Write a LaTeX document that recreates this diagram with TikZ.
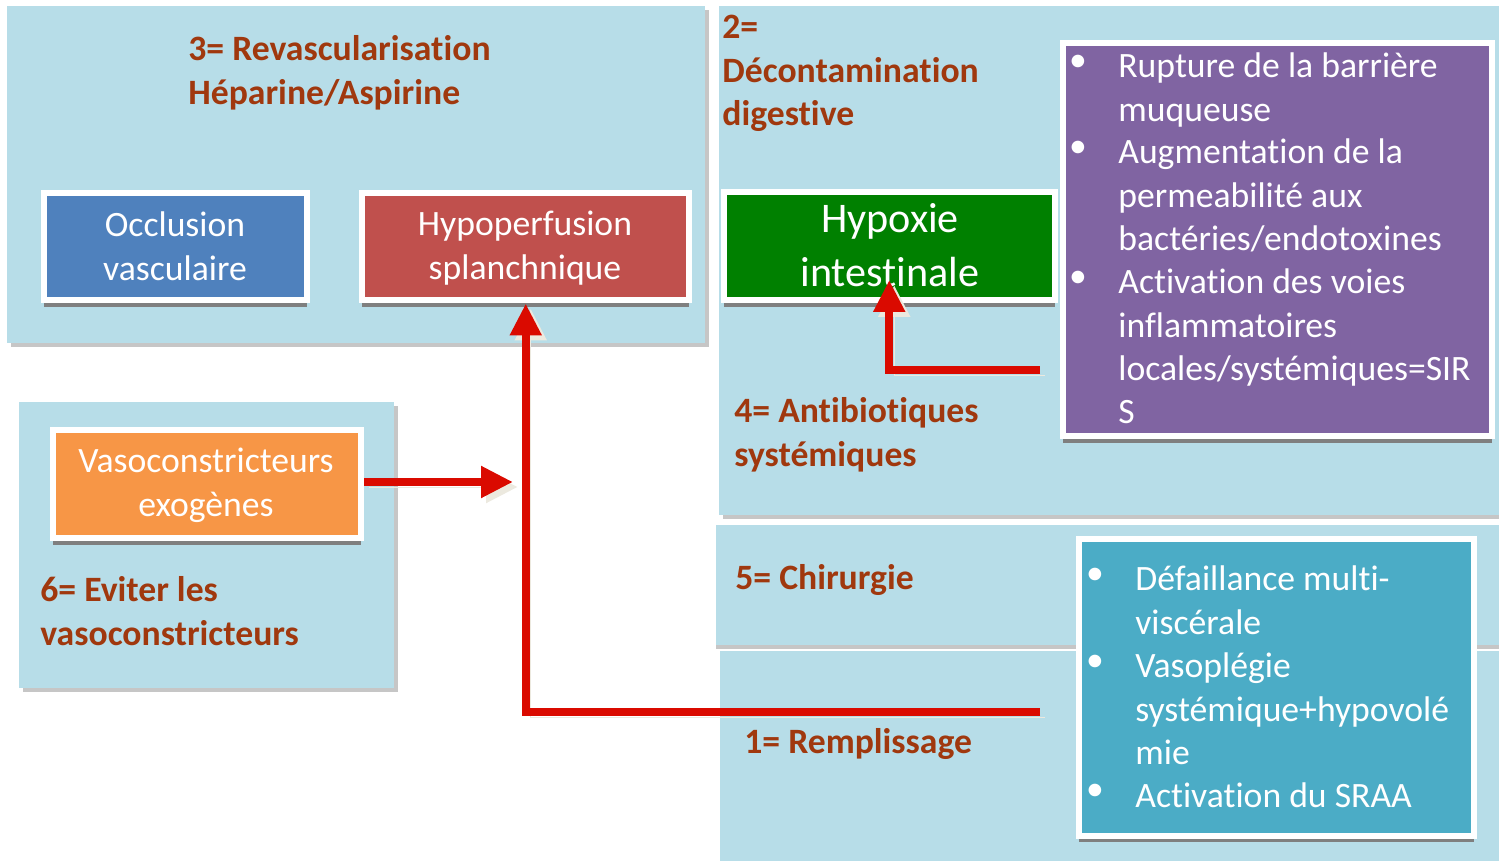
\documentclass[tikz,border=0pt]{standalone}
\usepackage{fontspec}
\setmainfont{Carlito}[Ligatures=NoCommon]
\usetikzlibrary{arrows.meta,shadows}

\definecolor{panelblue}{HTML}{B7DDE8}
\definecolor{panelshadow}{HTML}{C6C6C6}
\definecolor{titlered}{HTML}{A0380E}
\definecolor{arrowred}{HTML}{DA0A00}
\definecolor{arrowshadow}{HTML}{ECE9DF}
\definecolor{occblue}{HTML}{4F81BD}
\definecolor{hypred}{HTML}{C0504D}
\definecolor{hypgreen}{HTML}{008000}
\definecolor{sirpurple}{HTML}{8064A2}
\definecolor{vasoorange}{HTML}{F79646}
\definecolor{mofteal}{HTML}{4BACC6}
\definecolor{boxshadow}{HTML}{7F7F7F}

% text blocks whose baseline is the baseline of their first line
\newcommand{\blk}[2]{\begin{tabular}[t]{@{}#1@{}}#2\end{tabular}}
\newcommand{\titlefont}{\fontsize{20.3}{24.5}\selectfont\bfseries}
\newcommand{\boxfont}{\fontsize{20.3}{24.5}\selectfont}
\newcommand{\bigboxfont}{\fontsize{24}{30.2}\selectfont}

\tikzset{
  panel/.style={fill=panelblue},
  panelshade/.style={fill=panelshadow},
  framed/.style={draw=white, line width=0.12cm, inner sep=0pt,
    drop shadow={shadow xshift=0cm, shadow yshift=-0.13cm, fill=boxshadow, opacity=1}},
  title/.style={text=titlered, font=\titlefont, inner sep=0pt, anchor=base west},
  boxtext/.style={text=white, font=\boxfont, inner sep=0pt, anchor=base},
  itemtext/.style={text=white, font=\boxfont, inner sep=0pt, anchor=base west},
  dot/.style={text=white, font=\boxfont, inner sep=0pt, anchor=center},
  redarrow/.style={draw=arrowred, line width=0.16cm,
    -{Triangle[length=0.64cm,width=0.6cm]},
    preaction={draw=arrowshadow, transform canvas={shift={(0.1cm,-0.1cm)}}}}
}

\begin{document}
\begin{tikzpicture}[x=0.02cm, y=-0.02cm]
\useasboundingbox (0,0) rectangle (1499,861);
\fill[white] (0,0) rectangle (1499,861);

% background panels with their shadows
\fill[panelshade] (11,10) rectangle (709,347);
\fill[panel] (7,6) rectangle (705,343);
\fill[panelshade] (723,10) rectangle (1499,519);
\fill[panel] (719,6) rectangle (1499,515);
\fill[panelshade] (23,406) rectangle (398,692);
\fill[panel] (19,402) rectangle (394,688);
\fill[panelshade] (716,529) rectangle (1499,649);
\fill[panel] (716,525) rectangle (1499,645);
\fill[panel] (720,651) rectangle (1499,861);

% treatment labels
\node[title] (tRevasc) at (188,61) {\blk{l}{3= Revascularisation\\Héparine/Aspirine}};
\node[title] (tDecont) at (722,39) {\blk{l}{2=\\Décontamination\\digestive}};
\node[title] (tAntib) at (734,423) {\blk{l}{4= Antibiotiques\\systémiques}};
\node[title] (tChir) at (735,590) {5= Chirurgie};
\node[title] (tRempl) at (744,753) {1= Remplissage};
\node[title] (tEviter) at (40,602) {\blk{l}{6= Eviter les\\vasoconstricteurs}};

% coloured boxes
\node[framed, fill=occblue, minimum width=5.27cm, minimum height=2.15cm] (occ) at (175.25,246.75) {};
\node[framed, fill=hypred, minimum width=6.55cm, minimum height=2.15cm] (hypo) at (525.75,246.75) {};
\node[framed, fill=hypgreen, minimum width=6.63cm, minimum height=2.17cm] (hyp) at (889.25,246.25) {};
\node[framed, fill=sirpurple, minimum width=8.58cm, minimum height=7.88cm] (sirs) at (1277.5,239.5) {};
\node[framed, fill=vasoorange, minimum width=6.17cm, minimum height=2.17cm] (vaso) at (207.25,484.25) {};
\node[framed, fill=mofteal, minimum width=7.9cm, minimum height=5.94cm] (mof) at (1276.5,687.5) {};

% box texts
\node[boxtext] (occT) at (175,237) {\blk{c}{Occlusion\\vasculaire}};
\node[boxtext] (hypoT) at (525,236) {\blk{c}{Hypoperfusion\\splanchnique}};
\node[boxtext] (vasoT) at (206,473) {\blk{c}{Vasoconstricteurs\\exogènes}};
\node[boxtext, font=\bigboxfont] (hypT) at (890,233) {\blk{c}{Hypoxie\\intestinale}};

% consequences of intestinal hypoxia
\node[dot] (d1) at (1078,63) {•};
\node[itemtext] (i1) at (1118,78) {\blk{l}{Rupture de la barrière\\muqueuse}};
\node[dot] (d2) at (1078,149) {•};
\node[itemtext] (i2) at (1118,164) {\blk{l}{Augmentation de la\\permeabilité aux\\bactéries/endotoxines}};
\node[dot] (d3) at (1078,279) {•};
\node[itemtext] (i3) at (1118,294) {\blk{l}{Activation des voies\\inflammatoires\\locales/systémiques=SIR\\S}};

% systemic consequences
\node[dot] (e1) at (1095,576) {•};
\node[itemtext] (j1) at (1135,591) {\blk{l}{Défaillance multi-\\viscérale}};
\node[dot] (e2) at (1095,663) {•};
\node[itemtext] (j2) at (1135,678) {\blk{l}{Vasoplégie\\systémique+hypovolé\\mie}};
\node[dot] (e3) at (1095,792) {•};
\node[itemtext] (j3) at (1135,807) {Activation du SRAA};

% arrows
\coordinate (sirsEnd) at (1040,370);
\coordinate (mofEnd) at (1040,712);
\coordinate (vasoTip) at (513,482);
\draw[redarrow] (sirsEnd) -| ([yshift=0.47cm]hyp.south);
\draw[redarrow] (mofEnd) -| (hypo.south);
\draw[redarrow] (vaso.east |- vasoTip) -- (vasoTip);
\end{tikzpicture}
\end{document}
